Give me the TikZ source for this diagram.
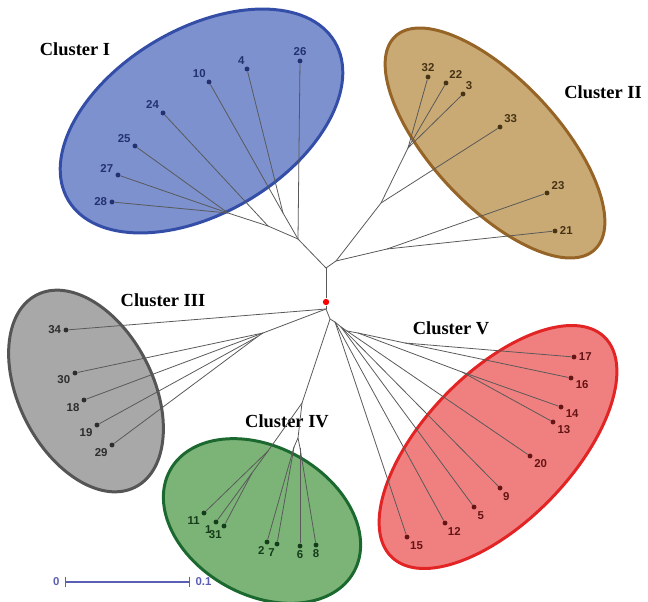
\documentclass[tikz,border=0pt]{standalone}
\usepackage{fontspec}
\setmainfont{Liberation Serif}
\setsansfont{Liberation Sans}
\usetikzlibrary{arrows.meta, positioning}

\definecolor{fillI}{RGB}{124,145,206}
\definecolor{lineI}{RGB}{52,78,168}
\definecolor{txI}{RGB}{35,50,110}
\definecolor{fillII}{RGB}{201,170,116}
\definecolor{lineII}{RGB}{150,100,38}
\definecolor{txII}{RGB}{70,50,20}
\definecolor{fillIII}{RGB}{168,168,168}
\definecolor{lineIII}{RGB}{85,85,85}
\definecolor{txIII}{RGB}{45,45,45}
\definecolor{fillIV}{RGB}{124,180,120}
\definecolor{lineIV}{RGB}{28,105,48}
\definecolor{txIV}{RGB}{20,60,25}
\definecolor{fillV}{RGB}{240,128,128}
\definecolor{lineV}{RGB}{226,36,36}
\definecolor{txV}{RGB}{100,20,20}
\definecolor{barcol}{RGB}{90,95,180}

\begin{document}
\begin{tikzpicture}[
  x=0.02cm, y=-0.02cm,
  clus/.style={line width=1.7pt},
  clab/.style={font=\bfseries\fontsize{10.5}{12}\selectfont, inner sep=1pt},
  leaf/.style={circle, fill=#1, inner sep=0pt, minimum size=2.8pt, label distance=1.2pt},
  num/.style={font=\sffamily\bfseries\fontsize{6.5}{7}\selectfont, text=#1, inner sep=1pt},
  br/.style={draw=black!65, line width=0.45pt},
  sbar/.style={font=\sffamily\bfseries\fontsize{6.5}{7}\selectfont, text=barcol, inner sep=1pt}
]
\useasboundingbox (0,0) rectangle (648,601);

% Cluster shapes
\draw[clus, draw=lineI, fill=fillI, rotate around={30.75:(201.5,121)}] (201.5,121) ellipse [x radius=155, y radius=92];
\draw[clus, draw=lineII, fill=fillII, rotate around={-46.9:(495,143)}] (495,143) ellipse [x radius=146, y radius=63];
\draw[clus, draw=lineIII, fill=fillIII, rotate around={-62.8:(86,391)}] (86,391) ellipse [x radius=108, y radius=67];
\draw[clus, draw=lineIV, fill=fillIV, rotate around={-29:(262,521)}] (262,521) ellipse [x radius=105, y radius=74];
\draw[clus, draw=lineV, fill=fillV, rotate around={46:(498,447)}] (498,447) ellipse [x radius=153, y radius=74];

% Cluster titles
\node[clab] (cI) at (75,49) {Cluster I};
\node[clab] (cII) at (603,92) {Cluster II};
\node[clab] (cIII) at (163,300) {Cluster III};
\node[clab] (cIV) at (287,421) {Cluster IV};
\node[clab] (cV) at (451,328) {Cluster V};

% Cluster I leaves
\node[leaf=txI, label={[num=txI]90:26}] (l26) at (300,61) {};
\node[leaf=txI, label={[num=txI]100:4}] (l4) at (247,69) {};
\node[leaf=txI, label={[num=txI]117:10}] (l10) at (209,82) {};
\node[leaf=txI, label={[num=txI]135:24}] (l24) at (163,113) {};
\node[leaf=txI, label={[num=txI]146:25}] (l25) at (135,146) {};
\node[leaf=txI, label={[num=txI]164:27}] (l27) at (118,175) {};
\node[leaf=txI, label={[num=txI]180:28}] (l28) at (112,202) {};

% Cluster II leaves
\node[leaf=txII, label={[num=txII]90:32}] (l32) at (428,77) {};
\node[leaf=txII, label={[num=txII]61:22}] (l22) at (446,83) {};
\node[leaf=txII, label={[num=txII]72:3}] (l3) at (463,94) {};
\node[leaf=txII, label={[num=txII]39:33}] (l33) at (500,127) {};
\node[leaf=txII, label={[num=txII]22:23}] (l23) at (547,193) {};
\node[leaf=txII, label={[num=txII]0:21}] (l21) at (555,231) {};

% Cluster III leaves
\node[leaf=txIII, label={[num=txIII]180:34}] (l34) at (66,330) {};
\node[leaf=txIII, label={[num=txIII]192:30}] (l30) at (75,373) {};
\node[leaf=txIII, label={[num=txIII]207:18}] (l18) at (84,400) {};
\node[leaf=txIII, label={[num=txIII]208:19}] (l19) at (97,425) {};
\node[leaf=txIII, label={[num=txIII]212:29}] (l29) at (112,445) {};

% Cluster IV leaves
\node[leaf=txIV, label={[num=txIV]222:11}] (l11) at (204,513) {};
\node[leaf=txIV, label={[num=txIV]212:1}] (l1) at (216,522) {};
\node[leaf=txIV, label={[num=txIV]265:31}] (l31) at (224,526) {};
\node[leaf=txIV, label={[num=txIV]260:2}] (l2) at (267,542) {};
\node[leaf=txIV, label={[num=txIV]265:7}] (l7) at (277,544) {};
\node[leaf=txIV, label={[num=txIV]270:6}] (l6) at (300,546) {};
\node[leaf=txIV, label={[num=txIV]270:8}] (l8) at (316,545) {};

% Cluster V leaves
\node[leaf=txV, label={[num=txV]0:17}] (l17) at (574,357) {};
\node[leaf=txV, label={[num=txV]346:16}] (l16) at (571,378) {};
\node[leaf=txV, label={[num=txV]346:14}] (l14) at (561,407) {};
\node[leaf=txV, label={[num=txV]331:13}] (l13) at (553,422) {};
\node[leaf=txV, label={[num=txV]322:20}] (l20) at (530,456) {};
\node[leaf=txV, label={[num=txV]292:9}] (l9) at (500,488) {};
\node[leaf=txV, label={[num=txV]301:5}] (l5) at (474,507) {};
\node[leaf=txV, label={[num=txV]288:12}] (l12) at (445,523) {};
\node[leaf=txV, label={[num=txV]293:15}] (l15) at (407,537) {};

% Inner branch points
\coordinate (nB) at (326,268);
\coordinate (nR) at (326,309);
\node[circle, fill=red, inner sep=0pt, minimum size=3.6pt] (root) at (326,302) {};
\coordinate (nA) at (298,239);
\coordinate (nAa) at (228,213);
\coordinate (nAb) at (268,226);
\coordinate (nAc) at (283,213);
\coordinate (nD) at (336,261);
\coordinate (nE) at (381,203);
\coordinate (nF) at (408,148);
\coordinate (nG) at (387,249);
\coordinate (nH) at (263,333);
\coordinate (nH2) at (257,337);
\coordinate (nS) at (330,319);
\coordinate (nT) at (302,403);
\coordinate (nU1) at (268,451);
\coordinate (nU2) at (252,473);
\coordinate (nU3) at (298,438);
\coordinate (nU4) at (294,447);
\coordinate (nU5) at (300,448);
\coordinate (nV0) at (335,322);
\coordinate (nV1) at (341,327);
\coordinate (nV2) at (347,331);
\coordinate (nV3) at (358,333);
\coordinate (nV4) at (405,343);
\coordinate (nV5) at (462,372);

% Branches
\draw[br] (nB) -- (root) -- (nR);
\foreach \i/\j in {nB/nA, nA/l26, nA/nAb, nA/nAc, nAc/l10, nAc/l4, nAb/l24, nAb/nAa, nAa/l25, nAa/l27, nAa/l28,
                   nB/nD, nD/nE, nD/nG, nE/l33, nE/nF, nF/l32, nF/l22, nF/l3, nG/l23, nG/l21,
                   nR/l34, nR/nH, nH/l30, nH/l18, nH/nH2, nH2/l19, nH2/l29,
                   nR/nS, nS/nT, nT/nU1, nT/nU3, nU1/l11, nU1/nU2, nU2/l1, nU2/l31, nU3/nU4, nU3/nU5, nU4/l2, nU4/l7, nU5/l6, nU5/l8,
                   nS/nV0, nV0/l15, nV0/l12, nV0/nV1, nV1/l5, nV1/l9, nV1/nV2, nV2/l20, nV2/nV3, nV3/nV4, nV3/nV5, nV4/l17, nV4/l16, nV5/l14, nV5/l13} {
    \draw[br] (\i) -- (\j);
}

% Scale bar
\coordinate (b0) at (65,582);
\coordinate (b1) at (190,582);
\draw[barcol, line width=0.6pt, {Bar[width=6pt]}-{Bar[width=6pt]}] (b0) -- (b1);
\node[sbar, left=2pt of b0] (s0) {0};
\node[sbar, right=2pt of b1] (s1) {0.1};

\end{tikzpicture}
\end{document}
